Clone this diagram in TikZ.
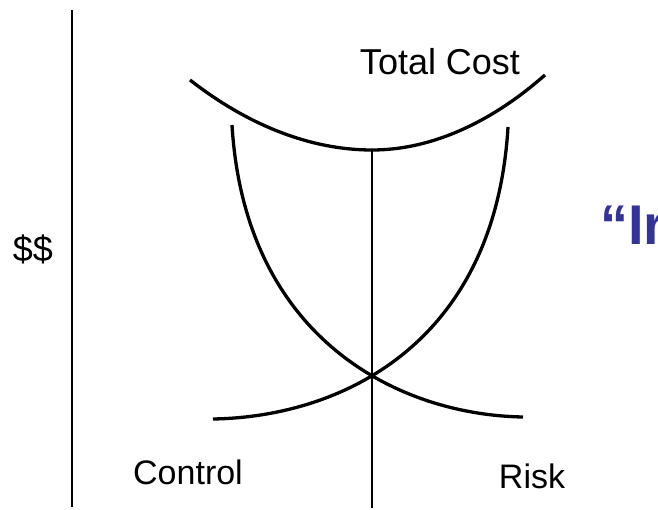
\documentclass[tikz,border=0pt]{standalone}
\usepackage{fontspec}
\setmainfont{Liberation Sans}
\usepackage{xcolor}
\usepackage{tikz}
\usetikzlibrary{positioning,calc}
\definecolor{ink}{HTML}{000000}
\definecolor{slideblue}{HTML}{333399}
\tikzset{
    every picture/.style={line cap=butt,line join=round},
    curveline/.style={draw=ink,line width=3.3pt},
    axisline/.style={draw=ink,line width=2.9pt},
    curvelabel/.style={inner sep=0pt,text=ink,font=\fontsize{34}{40}\selectfont},
    biglabel/.style={curvelabel,font=\fontsize{36}{42}\selectfont},
    titlelabel/.style={inner sep=0pt,text=slideblue,
      font=\fontsize{56}{64}\selectfont\bfseries}
}

\begin{document}
\begin{tikzpicture}[x=1pt,y=-1pt]
  \useasboundingbox (0,0) rectangle (658,510);
  \clip (0,0) rectangle (658,510);
  % axis and labels
  \coordinate (axistop) at (72,10);
  \coordinate (axisbot) at (72,507);
  \draw[axisline] (axistop)--(axisbot);
  \node[biglabel] (dollars) at (33,249) {\$\$};
  % total cost
  \coordinate (tcleft) at (190,80);
  \coordinate (tcmin) at (372,150);
  \coordinate (tcright) at (545,75);
  \draw[curveline] (tcleft) parabola bend (tcmin) (tcright);
  \node[biglabel] (total) at (440,62) {Total Cost};
  % optimum line
  \coordinate (optbot) at (372,508);
  \draw[axisline] (tcmin)--(optbot);
  % control and risk
  \coordinate (riskstart) at (232,125);
  \coordinate (riskend) at (523,417);
  \coordinate (ctrlstart) at (213,419);
  \coordinate (ctrlend) at (508,127);
  \draw[curveline] (riskstart) .. controls (245,340) and (400,415) .. (riskend);
  \draw[curveline] (ctrlstart) .. controls (340,417) and (495,345) .. (ctrlend);
  \node[curvelabel] (control) at (188,472) {Control};
  \node[curvelabel] (risk) at (532,476) {Risk};
  % cut-off heading
  \node[titlelabel,anchor=base west] (heading) at (600,245) {“Ir};
\end{tikzpicture}
\end{document}
